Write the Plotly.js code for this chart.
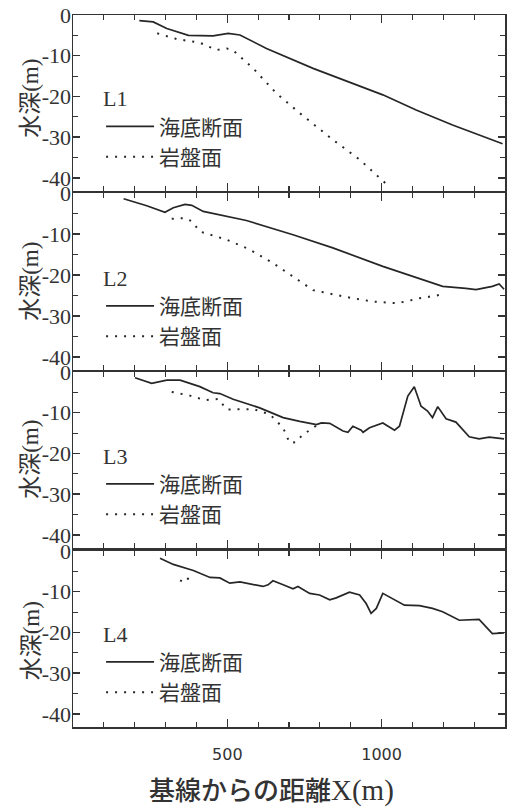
<!DOCTYPE html>
<html><head><meta charset="utf-8">
<script src="https://cdn.plot.ly/plotly-3.0.1.min.js"></script>
<style>html,body{margin:0;padding:0;background:#fff}#c{width:509px;height:809px}</style>
</head><body><div id="c"></div>
<script>
// L1
const xL1Sea = [215,260,304,374,454,503,541,627,778,907,1004,1112,1230,1392];
const yL1Sea = [-1.4,-1.7,-3.3,-5.0,-5.1,-4.5,-4.9,-8.2,-13.1,-16.7,-19.6,-23.3,-27,-31.6];
const xL1Rock = [273,336,411,465,498,519,584,659,735,842,929,983,999,1020];
const yL1Rock = [-4.5,-5.9,-6.8,-8.6,-8.2,-8.7,-13.1,-19.2,-24.1,-30.6,-35.5,-39.2,-40.4,-41.8];
// L2
const xL2Sea = [164,239,298,325,363,385,422,454,562,713,842,1004,1144,1198,1273,1306,1359,1381,1397];
const yL2Sea = [-1.4,-3.1,-4.7,-3.6,-2.8,-3.0,-4.5,-5.0,-6.7,-10.2,-13.4,-17.9,-21.4,-22.8,-23.3,-23.6,-22.8,-22.2,-23.5];
const xL2Rock = [320,363,385,411,498,573,648,713,778,886,972,1052,1123,1187];
const yL2Rock = [-6.3,-6.1,-6.9,-9.4,-11.4,-13.8,-17.1,-20.5,-23.7,-25.4,-26.5,-26.9,-25.7,-24.9];
// L3
const xL3Sea = [201,255,304,347,411,454,476,519,605,681,735,789,805,832,875,891,907,934,940,961,1004,1042,1058,1085,1106,1128,1149,1165,1182,1209,1241,1284,1316,1349,1397];
const yL3Sea = [-1.4,-2.8,-2.0,-2.0,-3.6,-5.1,-5.3,-6.7,-8.8,-11.2,-12.1,-12.9,-12.5,-12.6,-14.5,-14.8,-13.3,-14.3,-14.8,-13.7,-12.5,-14.3,-13.3,-5.9,-3.6,-8.4,-9.6,-11.2,-8.5,-11.5,-12.3,-15.9,-16.4,-16.0,-16.4];
const xL3Rock = [320,379,428,471,498,584,638,681,702,724,745,772,793];
const yL3Rock = [-4.9,-5.8,-6.9,-6.6,-9.2,-9.1,-10.4,-13.7,-17.4,-17.2,-15.3,-14.1,-12.9];
// L4
const xL4Sea = [282,325,390,444,476,508,541,584,616,632,648,681,713,729,767,799,832,853,896,929,950,966,983,1004,1031,1074,1123,1165,1198,1252,1316,1359,1397];
const yL4Sea = [-1.8,-3.3,-4.8,-6.5,-6.6,-7.9,-7.6,-8.3,-8.7,-8.3,-7.3,-8.3,-9.3,-8.7,-10.4,-10.8,-12.0,-11.5,-10.1,-10.8,-12.9,-15.3,-14.1,-10.4,-11.6,-13.3,-13.4,-14.1,-14.9,-17.0,-16.8,-20.3,-20.1];
const xL4Rock = [347,363,379];
const yL4Rock = [-7.2,-7.7,-6.2];

const panelNames = ['L1','L2','L3','L4'];
const seaName = '海底断面';
const rockName = '岩盤面';
const yTickVals = [0,-10,-20,-30,-40];
const yTickText = ['0','-10','-20','-30','-40'];
const xTickVals = [500,1000];
const xTickText = ['500','1000'];
const yTitle = '水深<span style="font-family:\'Liberation Serif\'">(m)</span>';
const xTitle = '基線からの距離<span style="font-family:\'Liberation Serif\';font-size:29px">X(m)</span>';

const seaX = [xL1Sea,xL2Sea,xL3Sea,xL4Sea], seaY = [yL1Sea,yL2Sea,yL3Sea,yL4Sea];
const rockX = [xL1Rock,xL2Rock,xL3Rock,xL4Rock], rockY = [yL1Rock,yL2Rock,yL3Rock,yL4Rock];

const ink = '#262626';
const domains = [[0.7528,1],[0.5014,0.75],[0.2514,0.4986],[0,0.2472]];
const legendTop = [0.912, 0.66, 0.41, 0.16];
const titleY = [0.883, 0.626, 0.376, 0.121];

const traces = [];
const layout = {
  width:509, height:809, paper_bgcolor:'#fff', plot_bgcolor:'#fff',
  margin:{l:73, r:4, t:15, b:82},
  font:{family:'Noto Sans CJK JP', color:'#333'},
  annotations:[], showlegend:true
};
for (let i=0;i<4;i++){
  const sx = i===0?'':String(i+1);
  const lg = i===0?'legend':'legend'+(i+1);
  traces.push({x:seaX[i], y:seaY[i], xaxis:'x'+sx, yaxis:'y'+sx, mode:'lines', name:seaName,
    legend:lg, line:{color:ink, width:1.7}});
  traces.push({x:rockX[i], y:rockY[i], xaxis:'x'+sx, yaxis:'y'+sx, mode:'lines', name:rockName,
    legend:lg, line:{color:ink, width:2, dash:'2px,7px'}});
  layout['xaxis'+sx] = {domain:[0,1], anchor:'y'+sx, range:[0,1400], tickmode:'array', tickvals:xTickVals, ticktext:xTickText,
    showticklabels:i===3, ticks:'inside', ticklen:8, tickwidth:1.5, tickcolor:'#333',
    minor:{tickmode:'linear', tick0:0, dtick:100, ticks:'inside', ticklen:5, tickwidth:1.2, tickcolor:'#333'},
    showline:true, mirror:'ticks', linecolor:'#333', linewidth:1.5, showgrid:false, zeroline:false,
    tickfont:{family:'DejaVu Sans', size:16, color:'#333'}, ticklabelstandoff:12};
  layout['yaxis'+sx] = {domain:domains[i], anchor:'x'+sx, range:[-43.2,0], tickmode:'array', tickvals:yTickVals, ticktext:yTickText,
    ticks:'inside', ticklen:7, tickwidth:1.5, tickcolor:'#333',
    minor:{tickmode:'linear', tick0:0, dtick:5, ticks:'inside', ticklen:5, tickwidth:1.2, tickcolor:'#333'},
    showline:true, mirror:'ticks', linecolor:'#333', linewidth:1.5, showgrid:false, zeroline:false,
    tickfont:{family:'Liberation Serif', size:22, color:'#333'}, ticklabelstandoff:-4};
  layout[lg] = {x:0.065, xanchor:'left', y:legendTop[i], yanchor:'top', bgcolor:'rgba(0,0,0,0)',
    font:{family:'Noto Sans CJK JP', size:21, color:'#333'}, tracegroupgap:0, itemwidth:48,
    title:{text:panelNames[i], font:{family:'Liberation Serif', size:22, color:'#333'}, side:'top'}};
  layout.annotations.push({text:yTitle, xref:'paper', yref:'paper', x:-0.103, y:titleY[i], xanchor:'center', yanchor:'middle',
    textangle:-90, showarrow:false, font:{family:'Noto Sans CJK JP', size:23, color:'#333'}});
}
layout.annotations.push({text:xTitle, xref:'paper', yref:'paper', x:0.46, y:-0.086, xanchor:'center', yanchor:'middle',
  showarrow:false, font:{family:'Noto Sans CJK JP', size:26, color:'#333', weight:500}});
Plotly.newPlot('c', traces, layout, {staticPlot:true});
</script></body></html>
